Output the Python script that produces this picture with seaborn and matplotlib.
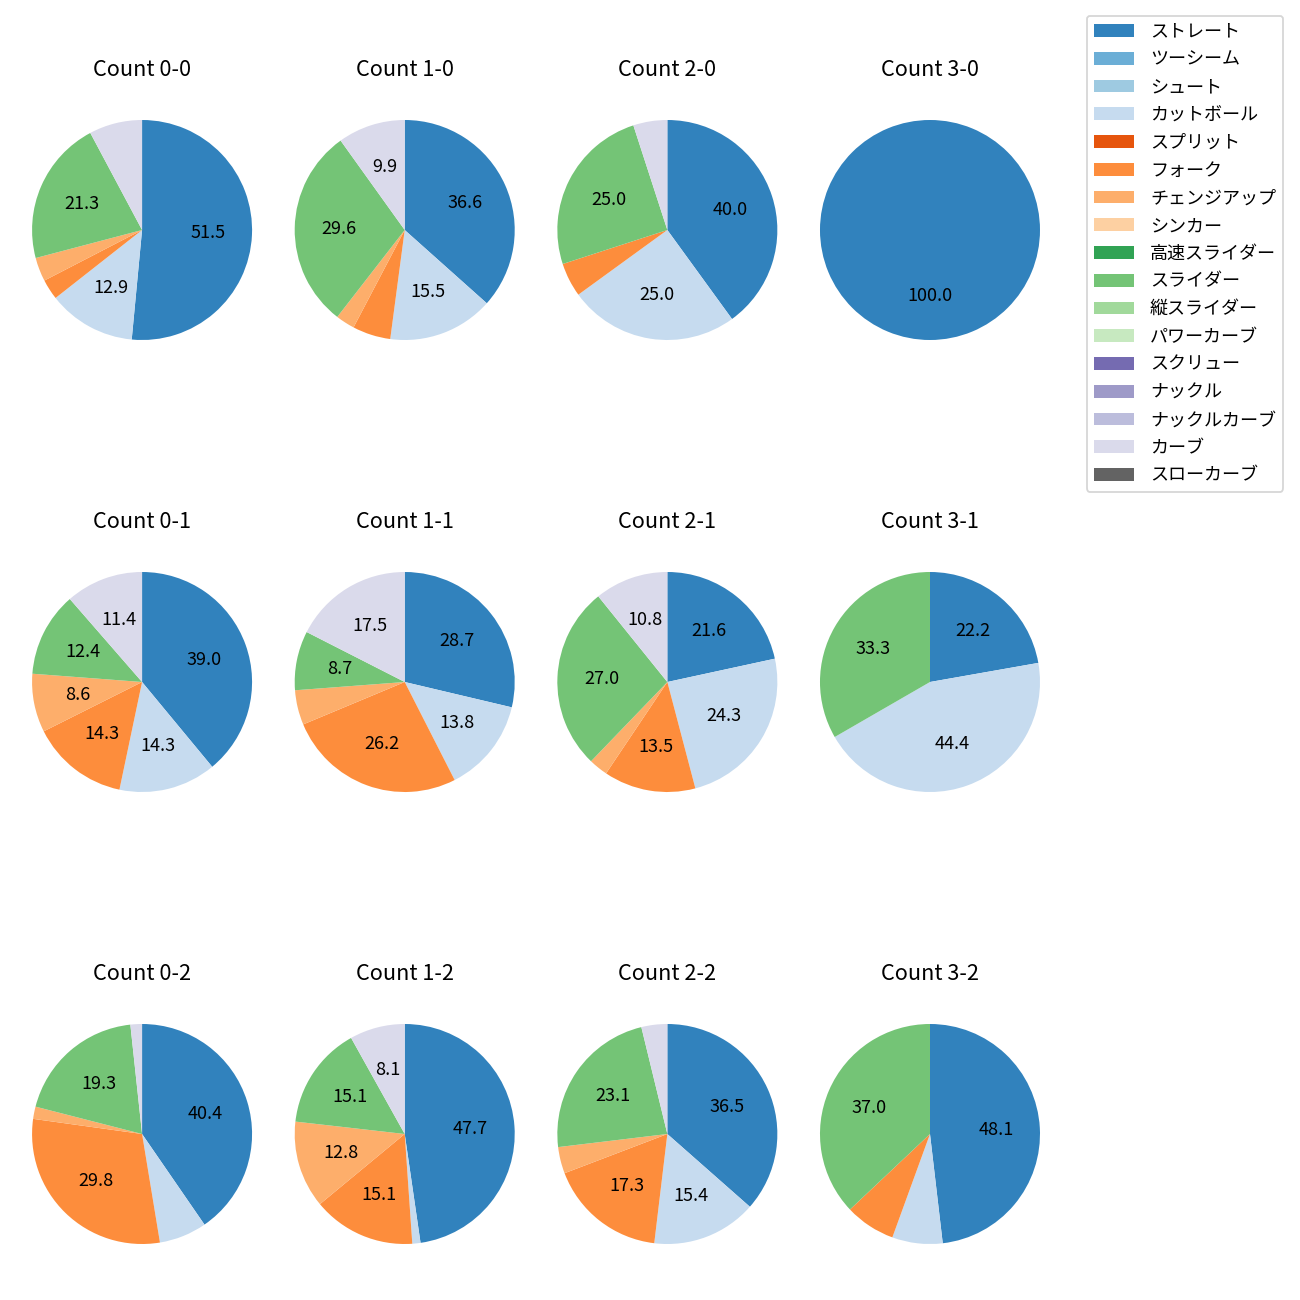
import matplotlib
matplotlib.use("Agg")
import matplotlib.pyplot as plt
from matplotlib.patches import Patch
import seaborn as sns

plt.rcParams['font.family'] = ['Noto Sans CJK JP', 'DejaVu Sans']

pitch_types = ["ストレート", "ツーシーム", "シュート", "カットボール", "スプリット", "フォーク",
               "チェンジアップ", "シンカー", "高速スライダー", "スライダー", "縦スライダー",
               "パワーカーブ", "スクリュー", "ナックル", "ナックルカーブ", "カーブ", "スローカーブ"]

count_labels = ["0-0", "1-0", "2-0", "3-0",
                "0-1", "1-1", "2-1", "3-1",
                "0-2", "1-2", "2-2", "3-2"]

# pitch share (%) per ball-strike count (same order as count_labels)
straight  = [51.5, 36.6, 40.0, 100.0, 39.0, 28.7, 21.6, 22.2, 40.4, 47.7, 36.5, 48.1]
cutter    = [12.9, 15.5, 25.0, 0.0, 14.3, 13.8, 24.3, 44.4, 7.0, 1.2, 15.4, 7.4]
fork      = [3.0, 5.6, 5.0, 0.0, 14.3, 26.2, 13.5, 0.0, 29.8, 15.1, 17.3, 7.4]
changeup  = [3.5, 2.8, 0.0, 0.0, 8.6, 5.1, 2.8, 0.0, 1.8, 12.8, 3.9, 0.0]
slider    = [21.3, 29.6, 25.0, 0.0, 12.4, 8.7, 27.0, 33.3, 19.3, 15.1, 23.1, 37.0]
curve     = [7.8, 9.9, 5.0, 0.0, 11.4, 17.5, 10.8, 0.0, 1.7, 8.1, 3.8, 0.0]

series = {
    "ストレート": straight,
    "カットボール": cutter,
    "フォーク": fork,
    "チェンジアップ": changeup,
    "スライダー": slider,
    "カーブ": curve,
}

palette = sns.color_palette("tab20c", len(pitch_types))
color_of = dict(zip(pitch_types, palette))

fig, axes = plt.subplots(3, 4, figsize=(10, 10), dpi=130)
fig.subplots_adjust(left=0.00346, right=0.8212, wspace=-0.04545,
                    top=0.92885, bottom=0.02192, hspace=0.6436)

for i, (ax, lab) in enumerate(zip(axes.flat, count_labels)):
    vals, cols = [], []
    for name in pitch_types:
        if name in series and series[name][i] > 0:
            vals.append(series[name][i])
            cols.append(color_of[name])
    ax.pie(vals, colors=cols, startangle=90, counterclock=False,
           autopct=lambda p: f"{p:.1f}" if p >= 8 else "")
    ax.set_title(f"Count {lab}", fontsize=12, pad=9.3)

handles = [Patch(facecolor=color_of[n], label=n) for n in pitch_types]
fig.legend(handles=handles, loc="upper right", bbox_to_anchor=(0.994, 0.995),
           fontsize=10, labelspacing=0.54, handlelength=2.2, handletextpad=0.9)

fig.savefig("out.png", dpi=130)
